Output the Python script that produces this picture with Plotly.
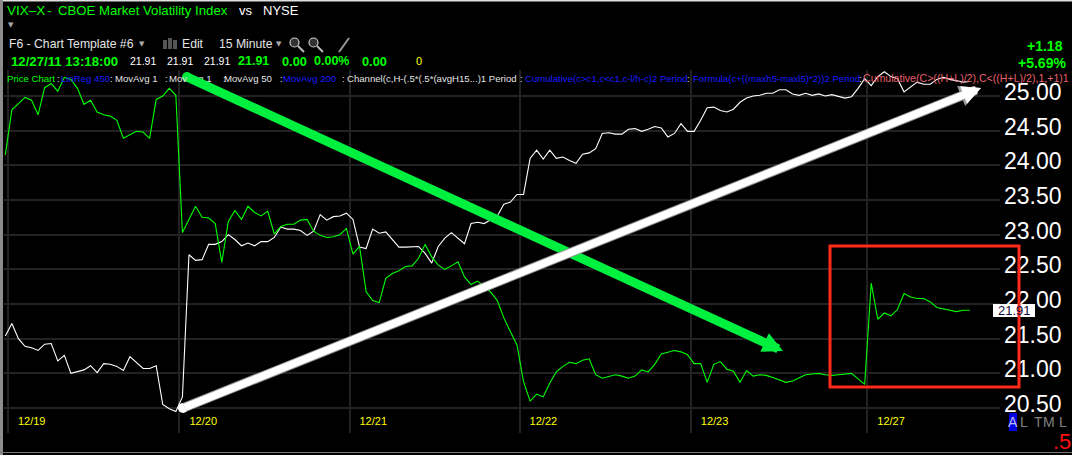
import plotly.graph_objects as go

# 15 minute bars
vix = [24.15, 24.80, 24.89, 24.98, 24.94, 24.73, 25.12, 25.18, 25.07, 25.27,
       25.24, 25.11, 24.88, 24.94, 24.77, 24.73, 24.71, 24.65, 24.39, 24.44,
       24.49, 24.48, 24.39, 24.95, 25.00, 25.11, 25.01, 23.03, 23.21, 23.41,
       23.25, 23.24, 23.16, 22.60, 23.19, 23.35, 23.22, 23.41, 23.32, 23.27,
       23.34, 23.01, 23.12, 23.15, 23.15, 23.21, 23.22, 23.05, 22.99, 22.96,
       22.97, 23.00, 23.09, 22.72, 22.83, 22.18, 22.05, 22.02, 22.37, 22.44,
       22.48, 22.54, 22.55, 22.66, 22.86, 22.68, 22.56, 22.50, 22.55, 22.61,
       22.39, 22.28, 22.33, 22.25, 22.17, 22.05, 21.80, 21.60, 21.41, 20.88,
       20.60, 20.70, 20.66, 20.86, 21.02, 21.10, 21.16, 21.14, 21.19, 21.21,
       20.98, 20.93, 20.95, 20.98, 20.96, 20.93, 20.96, 21.05, 21.02, 21.13,
       21.28, 21.30, 21.33, 21.31, 21.27, 21.14, 21.14, 20.87, 21.13, 21.17,
       21.06, 21.03, 20.87, 21.04, 20.96, 20.98, 20.97, 20.94, 20.90, 20.87,
       20.89, 20.94, 20.98, 20.99, 21.00, 20.98, 20.97, 20.98, 20.99, 21.00,
       20.92, 20.84, 22.30, 21.78, 21.87, 21.83, 21.92, 22.15, 22.10, 22.08,
       22.08, 22.03, 21.95, 21.93, 21.91, 21.89, 21.91, 21.91]
nyse = [21.54, 21.72, 21.50, 21.39, 21.37, 21.33, 21.42, 21.43, 21.18, 21.26,
        21.00, 21.03, 21.05, 21.11, 21.01, 21.14, 21.13, 21.10, 21.04, 21.24,
        21.16, 21.07, 21.07, 21.11, 20.55, 20.49, 20.45, 20.66, 22.71, 22.63,
        22.64, 22.86, 22.86, 22.90, 23.00, 22.93, 22.84, 22.88, 22.84, 22.90,
        22.90, 22.96, 23.11, 23.08, 23.08, 23.06, 22.99, 23.05, 23.29, 23.21,
        23.26, 23.27, 23.31, 23.22, 22.82, 22.80, 23.08, 23.02, 23.04, 22.93,
        22.82, 22.82, 22.82, 22.83, 22.73, 22.59, 22.83, 22.95, 23.03, 22.95,
        22.87, 23.16, 23.18, 23.16, 23.21, 23.27, 23.44, 23.47, 23.58, 23.58,
        24.10, 24.22, 24.09, 24.22, 24.10, 24.12, 24.07, 24.03, 24.16, 24.18,
        24.24, 24.46, 24.47, 24.45, 24.45, 24.52, 24.53, 24.49, 24.52, 24.56,
        24.54, 24.41, 24.46, 24.60, 24.49, 24.49, 24.65, 24.83, 24.84, 24.79,
        24.77, 24.81, 24.91, 24.97, 25.00, 25.01, 25.04, 25.04, 25.09, 25.09,
        25.03, 25.01, 25.04, 25.01, 25.03, 25.00, 25.02, 24.99, 24.97, 24.99,
        25.11, 25.25, 25.15, 25.28, 25.35, 25.28, 25.25, 25.06, 25.13, 25.20,
        25.17, 25.17, 25.24, 25.27, 25.24, 25.22, 25.20, 25.21]
bars = list(range(len(vix)))

day_ticks = [0.4, 26.55, 52.47, 78.4, 104.5, 131.4]
day_labels = ["12/19", "12/20", "12/21", "12/22", "12/23", "12/27"]
price_ticks = [25.0, 24.5, 24.0, 23.5, 23.0, 22.5, 22.0, 21.5, 21.0, 20.5]
last_price = 21.91

W, H = 1072, 455
L, R, T, B = 4, 1000, 70, 433


def px(x):
    return (x - L) / (R - L)


def py(y):
    return 1 - (y - T) / (B - T)


def dx(x):
    return (x - 5.3) / 6.56


def dy(y):
    return 20.5 + (408 - y) / 69.33


fig = go.Figure()
fig.add_trace(go.Scatter(x=bars, y=nyse, mode="lines", line=dict(color="#ffffff", width=1.1), cliponaxis=False))
fig.add_trace(go.Scatter(x=bars, y=vix, mode="lines", line=dict(color="#00ff00", width=1.1), cliponaxis=False))

# round tails of the hand drawn arrows
fig.add_trace(go.Scatter(x=[dx(187)], y=[dy(77)], mode="markers", marker=dict(color="#00e83c", size=10)))
fig.add_trace(go.Scatter(x=[dx(183)], y=[dy(408)], mode="markers", marker=dict(color="#ffffff", size=10)))

notes = []


def label(x, y, text, color="#ffffff", size=12, bold=False, anchor="left", font="Liberation Sans"):
    if bold:
        text = "<b>" + text + "</b>"
    notes.append(dict(xref="paper", yref="paper", x=px(x), y=py(y), text=text, showarrow=False,
                      xanchor=anchor, yanchor="middle", align=anchor, borderpad=0,
                      font=dict(color=color, size=size, family=font)))


def arrow(x0, y0, x1, y1, color, width, size=1.0):
    notes.append(dict(x=dx(x1), y=dy(y1), ax=dx(x0), ay=dy(y0), xref="x", yref="y", axref="x", ayref="y",
                      text="", showarrow=True, arrowhead=2, arrowsize=size, arrowwidth=width, arrowcolor=color))


GREEN = "#00ff00"
BLUE = "#1c1cff"
SALMON = "#e8606e"
GREY = "#e4e4e4"

label(6, 10, "VIX–X", GREEN, 13.5)
label(46, 10, "-", GREEN, 13.5)
label(57, 10, "CBOE Market Volatility Index", GREEN, 13.2)
label(238, 10, "vs", "#ffffff", 13)
label(262, 10, "NYSE", "#ffffff", 13)
label(11, 25, "▼", "#aaaaaa", 7, anchor="center", font="DejaVu Sans")

label(8, 44, "F6 - Chart Template #6", GREY, 12.2)
label(142, 44, "▼", "#aaaaaa", 7, anchor="center", font="DejaVu Sans")
label(181, 44, "Edit", GREY, 12.2)
label(218, 44, "15 Minute", GREY, 12.2)
label(279, 44, "▼", "#aaaaaa", 7, anchor="center", font="DejaVu Sans")

label(10, 61, "12/27/11 13:18:00", GREEN, 13.2, True)
label(129, 61, "21.91", "#ffffff", 10.5)
label(166, 61, "21.91", "#ffffff", 10.5)
label(203, 61, "21.91", "#ffffff", 10.5)
label(237, 61, "21.91", GREEN, 12.5, True)
label(281, 61, "0.00", GREEN, 12.8, True)
label(313, 61, "0.00%", GREEN, 12.5, True)
label(361, 61, "0.00", GREEN, 12.8, True)
label(415, 61, "0", "#ffff00", 11)

label(6, 78, "Price Chart", GREEN, 9.6)
label(60, 78, "LinReg 450", BLUE, 9.6)
label(114, 78, "MovAvg 1", GREY, 9.6)
label(168, 78, "MovAvg 1", GREY, 9.6)
label(223, 78, "MovAvg 50", GREY, 9.6)
label(282, 78, "MovAvg 200", BLUE, 9.6)
label(346, 78, "Channel(c,H-(.5*(.5*(avgH15...)1 Period", GREY, 9.6)
label(524, 78, "Cumulative(c>c1,c<c1,c-l/h-c)2 Period", BLUE, 9.6)
label(692, 78, "Formula(c+((maxh5-maxl5)*2))2 Period", BLUE, 9.6)
label(862, 78, "Cumulative(C>((H+L)/2),C<((H+L)/2),1,+1)1 Period", SALMON, 10.6)
for sep in [56, 109, 164, 222, 279, 341, 519, 686, 858]:
    label(sep, 78, ":", GREY, 9.6)

# arrows go over the indicator legend
arrow(187, 77, 783, 351, "#00f040", 9, 0.45)
arrow(183, 408, 981, 88, "#9a9a9a", 9.5, 0.45)
arrow(183, 408, 981, 88, "#ffffff", 7.5, 0.5)

label(1064, 46, "+1.18", GREEN, 14, True, "right")
label(1067, 63, "+5.69%", GREEN, 14, True, "right")

label(1014, 310.5, "%.2f" % last_price, "#101040", 13, anchor="center")

label(1013, 422, "A", "#b8b8ff", 14, anchor="center")
label(1024, 422, "L", "#808080", 14, anchor="center")
label(1038, 422, "T", "#808080", 14, anchor="center")
label(1049, 422, "M", "#808080", 14, anchor="center")
label(1063, 422, "L", "#808080", 14, anchor="center")
label(1072, 441, ".5", "#ff1010", 22, anchor="right")

shapes = []


def box(x0, y0, x1, y1, fill=None, line=None, width=0, kind="rect"):
    shapes.append(dict(type=kind, xref="paper", yref="paper", x0=px(x0), x1=px(x1), y0=py(y0), y1=py(y1),
                       fillcolor=fill, line=dict(color=line, width=width), layer="above"))


# window edges
box(0, 0, 1072, 1.5, fill="#e0e0e0")
box(0, 0, 3, 455, fill="#8c8c8c")
box(0, 452, 1072, 453, fill="#777777")

# A tab behind the A
box(1009, 413, 1017, 431, fill="#0000e0")

# toolbar icons
box(163, 40, 167, 49, fill="#555555")
box(168, 38, 172, 49, fill="#555555")
box(173, 40, 177, 49, fill="#555555")
for cx in [295, 314]:
    box(cx - 5, 38, cx + 4, 47, fill="#333333", line="#cccccc", width=1.2, kind="circle")
    box(cx + 3, 46, cx + 9, 52, line="#bbbbbb", width=2, kind="line")
box(339, 52, 349, 38, line="#999999", width=2, kind="line")

# last price tag, then the red box round the last session
box(993, 304, 1035, 317, fill="#ffffff")
box(830, 246, 1019, 387, line="#ff2a1a", width=3)

fig.update_layout(
    width=W, height=H, autosize=False,
    margin=dict(l=L, r=W - R, t=T, b=H - B),
    paper_bgcolor="#000000", plot_bgcolor="#000000",
    showlegend=False,
    annotations=notes, shapes=shapes,
    xaxis=dict(range=[dx(L), dx(R)], tickmode="array", tickvals=day_ticks, ticktext=day_labels,
               ticklabelposition="inside right", ticklabelshift=10, ticklen=0,
               showgrid=True, gridcolor="#222222", gridwidth=1.5, zeroline=False, showline=False,
               tickfont=dict(color="#ffff00", size=11, family="Liberation Sans")),
    yaxis=dict(range=[dy(B), dy(T)], side="right", tickmode="array", tickvals=price_ticks,
               ticktext=["%.2f" % p for p in price_ticks], ticklen=0, ticklabelshift=-4, ticklabelstandoff=3,
               showgrid=True, gridcolor="#222222", gridwidth=1.5, zeroline=False, showline=False,
               tickfont=dict(color="#ffffff", size=23, family="Liberation Sans")),
)

fig.write_html("out.html", config=dict(displayModeBar=False),
               post_script="document.body.style.margin='0';document.body.style.overflow='hidden';document.body.style.background='#000';")
